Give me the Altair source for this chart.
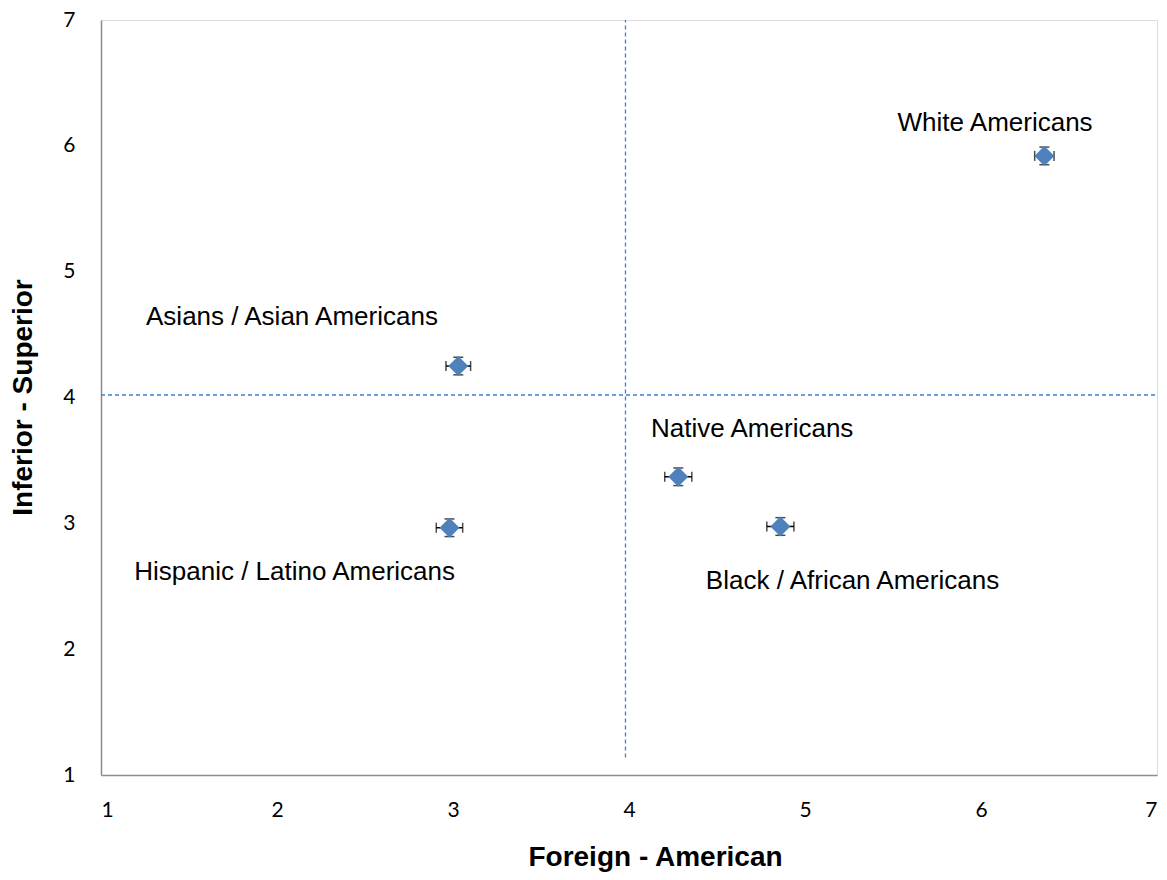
import altair as alt
import pandas as pd

groups = ["White Americans", "Asians / Asian Americans", "Hispanic / Latino Americans",
          "Native Americans", "Black / African Americans"]
x_vals = [6.36, 3.03, 2.98, 4.28, 4.86]
y_vals = [5.92, 4.25, 2.965, 3.37, 2.975]
x_err = [0.055, 0.07, 0.075, 0.077, 0.077]
y_err = [0.07, 0.07, 0.07, 0.07, 0.07]
label_x = [6.08, 2.085, 2.10, 4.70, 5.27]
label_y = [6.185, 4.64, 2.615, 3.75, 2.545]

ref_v_x = [3.98]
ref_v_y = [1.14]
ref_v_y2 = [7.0]
ref_h_y = [4.02]
ref_h_x = [1.0]
ref_h_x2 = [7.0]

ticks = [1, 2, 3, 4, 5, 6, 7]

df = pd.DataFrame({
    "group": groups, "x": x_vals, "y": y_vals,
    "xlo": [a - e for a, e in zip(x_vals, x_err)],
    "xhi": [a + e for a, e in zip(x_vals, x_err)],
    "ylo": [a - e for a, e in zip(y_vals, y_err)],
    "yhi": [a + e for a, e in zip(y_vals, y_err)],
    "lx": label_x, "ly": label_y,
})
vdf = pd.DataFrame({"x": ref_v_x, "y": ref_v_y, "y2": ref_v_y2})
hdf = pd.DataFrame({"y": ref_h_y, "x": ref_h_x, "x2": ref_h_x2})

xs = alt.Scale(domain=[1, 7], nice=False, zero=False)
ys = alt.Scale(domain=[1, 7], nice=False, zero=False)

xaxis = alt.Axis(values=ticks, format="d", title="Foreign - American", grid=False, ticks=False,
                 domainColor="#8c8c8c", domainWidth=1.5, labelFont="Lato", labelFontSize=21,
                 labelColor="#000000", labelPadding=24, titleFont="Liberation Sans",
                 titleFontSize=28, titleFontWeight="bold", titleColor="#000000",
                 titleX=554, titleY=82, titleBaseline="middle", titleAlign="center")
yaxis = alt.Axis(values=ticks, format="d", title="Inferior - Superior", grid=False, ticks=False,
                 domainColor="#8c8c8c", domainWidth=1.5, labelFont="Lato", labelFontSize=21,
                 labelColor="#000000", labelPadding=26, titleFont="Liberation Sans",
                 titleFontSize=28, titleFontWeight="bold", titleColor="#000000",
                 titleX=-78, titleY=377, titleAngle=-90, titleBaseline="middle", titleAlign="center")

base = alt.Chart(df)

vline = alt.Chart(vdf).mark_rule(color="#3d7fd6", strokeDash=[4, 3], strokeWidth=1.3).encode(
    x=alt.X("x:Q", scale=xs, axis=xaxis), y=alt.Y("y:Q", scale=ys, axis=yaxis), y2="y2:Q")
hline = alt.Chart(hdf).mark_rule(color="#3d7fd6", strokeDash=[4, 3], strokeWidth=1.3).encode(
    y=alt.Y("y:Q", scale=ys), x=alt.X("x:Q", scale=xs), x2="x2:Q")

xbar = base.mark_rule(color="black", strokeWidth=1.5).encode(
    x=alt.X("xlo:Q", scale=xs), x2="xhi:Q", y=alt.Y("y:Q", scale=ys))
ybar = base.mark_rule(color="black", strokeWidth=1.5).encode(
    y=alt.Y("ylo:Q", scale=ys), y2="yhi:Q", x=alt.X("x:Q", scale=xs))
cap_v = "M0,-1L0,1"
cap_h = "M-1,0L1,0"
caps_l = base.mark_point(shape=cap_v, stroke="black", strokeWidth=1.5, size=100, filled=False).encode(
    x=alt.X("xlo:Q", scale=xs), y=alt.Y("y:Q", scale=ys))
caps_r = base.mark_point(shape=cap_v, stroke="black", strokeWidth=1.5, size=100, filled=False).encode(
    x=alt.X("xhi:Q", scale=xs), y=alt.Y("y:Q", scale=ys))
caps_b = base.mark_point(shape=cap_h, stroke="black", strokeWidth=1.5, size=100, filled=False).encode(
    x=alt.X("x:Q", scale=xs), y=alt.Y("ylo:Q", scale=ys))
caps_t = base.mark_point(shape=cap_h, stroke="black", strokeWidth=1.5, size=100, filled=False).encode(
    x=alt.X("x:Q", scale=xs), y=alt.Y("yhi:Q", scale=ys))

pts = base.mark_point(shape="diamond", filled=True, color="#4f81bd", size=400, opacity=1).encode(
    x=alt.X("x:Q", scale=xs), y=alt.Y("y:Q", scale=ys))

labels = base.mark_text(font="Liberation Sans", fontSize=26, color="#000000",
                        align="center", baseline="middle").encode(
    x=alt.X("lx:Q", scale=xs), y=alt.Y("ly:Q", scale=ys), text="group:N")

chart = alt.layer(vline, hline, xbar, ybar, caps_l, caps_r, caps_b, caps_t, pts, labels).properties(
    width=1056, height=755,
    autosize=alt.AutoSizeParams(type="none"),
    padding={"left": 93, "top": 12, "right": 2, "bottom": 100},
).configure_view(stroke="transparent", strokeWidth=0, strokeOpacity=0, fill="white").configure(background="white")

chart.save("out.html", embed_options={"renderer": "svg", "actions": False})
